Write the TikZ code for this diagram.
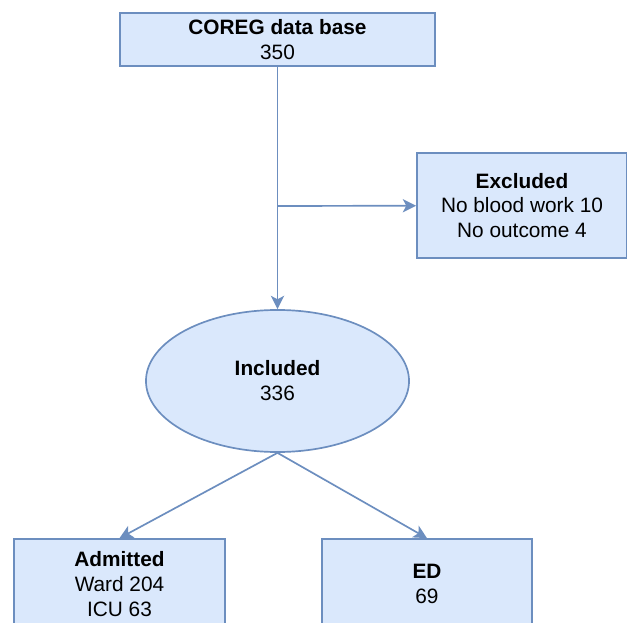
\documentclass[tikz,border=0pt]{standalone}
\usepackage{fontspec}
\setmainfont{Liberation Sans}
\usetikzlibrary{arrows.meta,shapes.geometric}
\definecolor{flowfill}{HTML}{DAE8FC}
\definecolor{flowline}{HTML}{6C8EBF}

\tikzset{
    flowbox/.style={draw=flowline, fill=flowfill, rectangle, line width=1.2pt, align=center,
        font=\fontsize{14.8}{17.7}\selectfont, inner sep=0pt},
    flowoval/.style={flowbox, ellipse},
    flowarrow/.style={draw=flowline, line width=1.2pt, -{Stealth[length=9.5pt, width=9.5pt, inset=2.5pt]}}
}

\begin{document}
\begin{tikzpicture}[x=0.025cm, y=-0.025cm]
    \clip (0,0) rectangle (627,623);
    \useasboundingbox (0,0) rectangle (627,623);

    \node[flowbox, minimum width=7.875cm, minimum height=1.325cm] (base) at (277.5,39.5) {\textbf{COREG data base}\\350};
    \node[flowbox, minimum width=5.25cm, minimum height=2.625cm] (excl) at (522,205.5) {\textbf{Excluded}\\No blood work 10\\No outcome 4};
    \node[flowoval, minimum width=6.575cm, minimum height=3.55cm] (incl) at (277.5,381) {\textbf{Included}\\336};
    \node[flowbox, minimum width=5.275cm, minimum height=2.25cm] (adm) at (119.5,584) {\textbf{Admitted}\\Ward 204\\ICU 63};
    \node[flowbox, minimum width=5.25cm, minimum height=2.25cm] (ed) at (427,584) {\textbf{ED}\\69};

    \coordinate (split) at (277.5,206);

    \draw[flowarrow] (base) -- (incl);
    \draw[flowarrow] (split) -- (excl);
    \draw[flowarrow] (incl.south) -- (adm.north);
    \draw[flowarrow] (incl.south) -- (ed.north);
\end{tikzpicture}
\end{document}
